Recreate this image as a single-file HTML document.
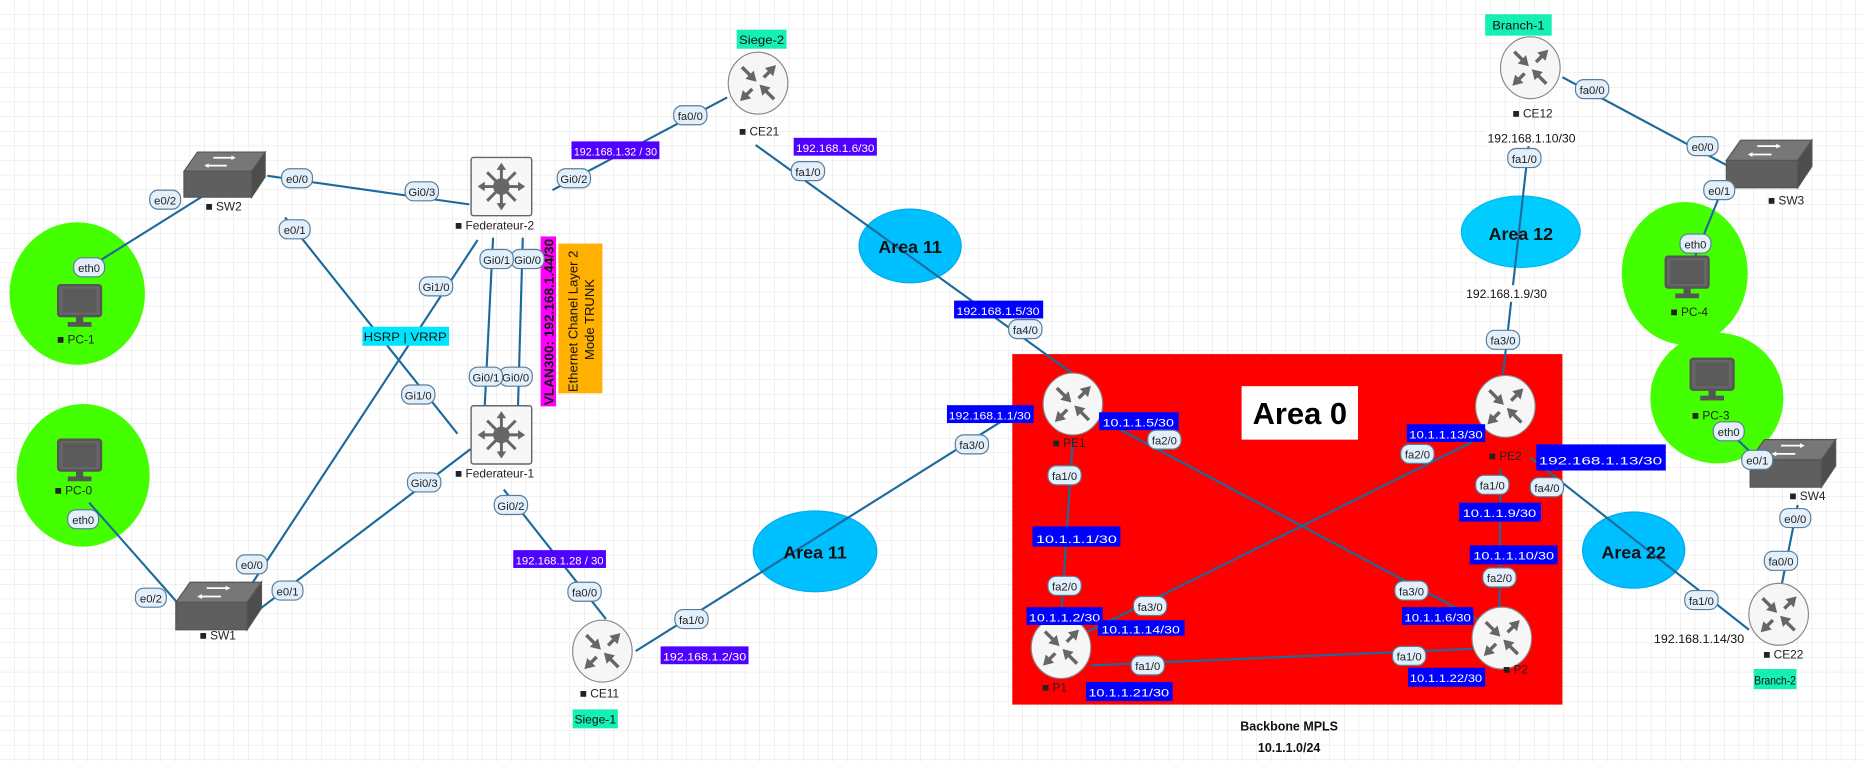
<!DOCTYPE html>
<html><head><meta charset="utf-8"><style>
html,body{margin:0;padding:0;background:#fff;}
svg{display:block;}
.l{stroke:#1b6a9c;stroke-width:1.8;fill:none;}
.p rect{fill:#e3f0fb;stroke:#5a7e99;stroke-width:1;}
.p text{font-family:"Liberation Sans Narrow","Liberation Sans",sans-serif;font-size:9.5px;fill:#222;text-anchor:middle;}
.n{font-family:"Liberation Sans Narrow","Liberation Sans",sans-serif;font-size:10px;fill:#222;}
.ip{font-family:"Liberation Sans Narrow","Liberation Sans",sans-serif;font-size:9.5px;fill:#fff;text-anchor:middle;}
.bk{font-family:"Liberation Sans Narrow","Liberation Sans",sans-serif;font-size:10px;fill:#111;text-anchor:middle;}
.ar{font-family:"Liberation Sans",sans-serif;font-weight:bold;font-size:15px;fill:#111;text-anchor:middle;}
</style></head><body>
<svg width="1863" height="762" viewBox="0 0 1568 641.3" preserveAspectRatio="none" xmlns="http://www.w3.org/2000/svg">
<defs>
<pattern id="g" width="12.3" height="12.3" patternUnits="userSpaceOnUse"><path d="M12.3 0V12.3H0" fill="none" stroke="#e2e2e2" stroke-width="0.8"/></pattern>
<symbol id="rt" viewBox="-28 -28 56 56" overflow="visible">
<ellipse cx="0" cy="0" rx="26" ry="27" fill="#f6f6f6" stroke="#888" stroke-width="1"/>
<g fill="#666" stroke="#666" stroke-width="3">
<line x1="-14" y1="-14" x2="-5" y2="-5"/><polygon points="-2,-2 -10,-4 -4,-10" stroke-width="1"/>
<line x1="5" y1="-5" x2="12" y2="-12"/><polygon points="15,-15 7,-13 13,-7" stroke-width="1"/>
<line x1="-5" y1="5" x2="-12" y2="12"/><polygon points="-15,15 -7,13 -13,7" stroke-width="1"/>
<line x1="14" y1="14" x2="5" y2="5"/><polygon points="2,2 10,4 4,10" stroke-width="1"/>
</g></symbol>
<symbol id="sw" viewBox="0 0 72 40" overflow="visible">
<polygon points="12,0 72,0 60,17 0,17" fill="#777" stroke="#555"/>
<polygon points="0,17 60,17 60,40 0,40" fill="#5f5f5f" stroke="#555"/>
<polygon points="60,17 72,0 72,22 60,40" fill="#4d4d4d" stroke="#555"/>
<g stroke="#fff" stroke-width="1.5"><line x1="26" y1="5" x2="44" y2="5"/><line x1="20" y1="12" x2="38" y2="12"/></g>
<polygon points="46,5 42,3 42,7" fill="#fff"/><polygon points="18,12 22,10 22,14" fill="#fff"/>
</symbol>
<symbol id="ml" viewBox="0 0 52 50" overflow="visible">
<rect x="0.5" y="0.5" width="51" height="49" rx="2" fill="#f7f7f7" stroke="#666" stroke-width="1.2"/>
<g stroke="#666" stroke-width="2.5"><line x1="26" y1="8" x2="26" y2="42"/><line x1="9" y1="25" x2="43" y2="25"/><line x1="14" y1="13" x2="38" y2="37"/><line x1="38" y1="13" x2="14" y2="37"/></g>
<circle cx="26" cy="25" r="7" fill="#666"/>
<g fill="#666"><polygon points="26,5 22,11 30,11"/><polygon points="26,45 22,39 30,39"/><polygon points="6,25 12,21 12,29"/><polygon points="46,25 40,21 40,29"/></g>
</symbol>
<symbol id="pc" viewBox="0 0 40 40" overflow="visible">
<rect x="2" y="2" width="36" height="26" rx="2" fill="#666" stroke="#555" stroke-width="2"/>
<rect x="6" y="5" width="28" height="20" fill="#5a5a5a"/>
<rect x="17" y="28" width="6" height="6" fill="#555"/><rect x="10" y="33" width="20" height="4" fill="#555"/>
</symbol>
</defs>
<rect width="1568" height="642" fill="#fff"/>
<rect width="1568" height="642" fill="url(#g)"/>

<rect x="852" y="298" width="463" height="295" fill="#ff0000"/>
<rect x="1045" y="325" width="98" height="45" fill="#fff"/>
<text x="1094" y="357" font-family="Liberation Sans,sans-serif" font-weight="bold" font-size="26" text-anchor="middle" fill="#000">Area 0</text>

<ellipse cx="65" cy="247" rx="57" ry="60" fill="#44ff00"/>
<ellipse cx="70" cy="400" rx="56" ry="60" fill="#44ff00"/>
<ellipse cx="1418" cy="230" rx="53" ry="60" fill="#44ff00"/>
<ellipse cx="1445" cy="335" rx="56" ry="55" fill="#44ff00"/>

<ellipse cx="766" cy="207" rx="43" ry="31" fill="#00bfff" stroke="#00aaee"/>
<ellipse cx="1280" cy="195" rx="50" ry="30" fill="#00ccff" stroke="#00b8ee"/>
<ellipse cx="686" cy="464" rx="52" ry="34" fill="#00bfff" stroke="#00aaee"/>
<ellipse cx="1375" cy="463" rx="43" ry="32" fill="#00bfff" stroke="#00aaee"/>

<path class="l" d="M75 225 L182 158"/>
<path class="l" d="M225 148 L395 172"/>
<path class="l" d="M240 183 L385 365"/>
<path class="l" d="M402 202 L205 502"/>
<path class="l" d="M218 513 L396 378"/>
<path class="l" d="M415 200 L408 341"/>
<path class="l" d="M440 200 L436 341"/>
<path class="l" d="M75 423 L150 508"/>
<path class="l" d="M612 82 L465 160"/>
<path class="l" d="M636 122 L905 316"/>
<path class="l" d="M424 412 L510 521"/>
<path class="l" d="M535 548 L855 347"/>
<path class="l" d="M903 370 L893 520"/>
<path class="l" d="M940 360 L1245 522"/>
<path class="l" d="M915 532 L1243 370"/>
<path class="l" d="M918 560 L1240 546"/>
<path class="l" d="M1263 395 L1262 512"/>
<path class="l" d="M1288 385 L1472 530"/>
<path class="l" d="M1288 110 L1265 315"/>
<path class="l" d="M1315 65 L1455 140"/>
<path class="l" d="M1450 158 L1427 215"/>
<path class="l" d="M1498 500 L1513 425"/>
<path class="l" d="M1455 363 L1478 385"/>

<text class="ar" x="766" y="213">Area 11</text>
<text class="ar" x="1280" y="202" font-size="17">Area 12</text>
<text class="ar" x="686" y="470">Area 11</text>
<text class="ar" x="1375" y="470">Area 22</text>

<use href="#rt" x="611" y="43" width="54" height="54"/>
<use href="#rt" x="480" y="521" width="54" height="54"/>
<use href="#rt" x="1261" y="30" width="54" height="54"/>
<use href="#rt" x="1470" y="490" width="54" height="54"/>
<use href="#rt" x="876" y="313" width="54" height="54"/>
<use href="#rt" x="1240" y="315" width="54" height="54"/>
<use href="#rt" x="866" y="518" width="54" height="54"/>
<use href="#rt" x="1237" y="510" width="54" height="54"/>
<use href="#ml" x="396" y="132" width="52" height="50"/>
<use href="#ml" x="396" y="341" width="52" height="50"/>
<use href="#sw" x="153" y="128" width="72" height="38"/>
<use href="#sw" x="148" y="490" width="72" height="40"/>
<use href="#sw" x="1453" y="118" width="72" height="40"/>
<use href="#sw" x="1473" y="370" width="72" height="40"/>
<use href="#pc" x="46" y="238" width="42" height="40"/>
<use href="#pc" x="46" y="368" width="42" height="40"/>
<use href="#pc" x="1399" y="214" width="42" height="40"/>
<use href="#pc" x="1420" y="300" width="42" height="40"/>

<g class="n">
<text x="48" y="289">■ PC-1</text>
<text x="46" y="416">■ PC-0</text>
<text x="1406" y="266">■ PC-4</text>
<text x="1424" y="353">■ PC-3</text>
<text x="173" y="177">■ SW2</text>
<text x="168" y="538">■ SW1</text>
<text x="1488" y="172">■ SW3</text>
<text x="1506" y="421">■ SW4</text>
<text x="383" y="193">■ Federateur-2</text>
<text x="383" y="402">■ Federateur-1</text>
<text x="622" y="114">■ CE21</text>
<text x="488" y="587">■ CE11</text>
<text x="1273" y="99">■ CE12</text>
<text x="1484" y="554">■ CE22</text>
<text x="886" y="376">■ PE1</text>
<text x="1253" y="387">■ PE2</text>
<text x="877" y="582">■ P1</text>
<text x="1265" y="567">■ P2</text>
</g>

<rect x="620" y="25" width="42" height="16" fill="#14f0b4"/><text class="bk" x="641" y="37" textLength="38" lengthAdjust="spacingAndGlyphs">Siege-2</text>
<rect x="482" y="597" width="38" height="16" fill="#14f0b4"/><text class="bk" x="501" y="609" textLength="35" lengthAdjust="spacingAndGlyphs">Siege-1</text>
<rect x="1250" y="12" width="56" height="18" fill="#14f0b4"/><text class="bk" x="1278" y="25" textLength="44" lengthAdjust="spacingAndGlyphs">Branch-1</text>
<rect x="1476" y="563" width="36" height="17" fill="#14f0b4"/><text class="bk" x="1494" y="576" textLength="35" lengthAdjust="spacingAndGlyphs">Branch-2</text>

<rect x="305" y="275" width="73" height="16" fill="#00e5ff"/><text class="bk" x="341" y="287" font-size="11" textLength="70" lengthAdjust="spacingAndGlyphs">HSRP | VRRP</text>
<rect x="455" y="199" width="13" height="143" fill="#ff00ff"/>
<text transform="translate(466,341) rotate(-90)" font-family="Liberation Sans,sans-serif" font-weight="bold" font-size="11" fill="#111" textLength="140" lengthAdjust="spacingAndGlyphs">VLAN300: 192.168.1.44/30</text>
<rect x="470" y="205" width="37" height="126" fill="#ffb000"/>
<text transform="translate(486,330) rotate(-90)" font-family="Liberation Sans,sans-serif" font-size="11" fill="#111">Ethernet Chanel Layer 2</text>
<text transform="translate(500,303) rotate(-90)" font-family="Liberation Sans,sans-serif" font-size="11" fill="#111">Mode TRUNK</text>

<g>
<rect x="481" y="119" width="74" height="15" fill="#5000ff"/><text class="ip" x="518" y="131" textLength="70" lengthAdjust="spacingAndGlyphs">192.168.1.32 / 30</text>
<rect x="668" y="116" width="70" height="15" fill="#5000ff"/><text class="ip" x="703" y="128" textLength="66" lengthAdjust="spacingAndGlyphs">192.168.1.6/30</text>
<rect x="803" y="253" width="75" height="15" fill="#0000ff"/><text class="ip" x="840" y="265" textLength="70" lengthAdjust="spacingAndGlyphs">192.168.1.5/30</text>
<rect x="432" y="463" width="78" height="15" fill="#5000ff"/><text class="ip" x="471" y="475" textLength="74" lengthAdjust="spacingAndGlyphs">192.168.1.28 / 30</text>
<rect x="556" y="544" width="74" height="15" fill="#5000ff"/><text class="ip" x="593" y="556" textLength="70" lengthAdjust="spacingAndGlyphs">192.168.1.2/30</text>
<rect x="797" y="341" width="73" height="15" fill="#0000ff"/><text class="ip" x="833" y="353" textLength="69" lengthAdjust="spacingAndGlyphs">192.168.1.1/30</text>
<rect x="925" y="347" width="67" height="15" fill="#0000ff"/><text class="ip" x="958" y="359" textLength="60" lengthAdjust="spacingAndGlyphs">10.1.1.5/30</text>
<rect x="869" y="443" width="74" height="17" fill="#0000ff"/><text class="ip" x="906" y="457" font-size="13" textLength="68" lengthAdjust="spacingAndGlyphs">10.1.1.1/30</text>
<rect x="864" y="511" width="64" height="15" fill="#0000ff"/><text class="ip" x="896" y="523" textLength="60" lengthAdjust="spacingAndGlyphs">10.1.1.2/30</text>
<rect x="924" y="522" width="73" height="13" fill="#0000ff"/><text class="ip" x="960" y="533" textLength="66" lengthAdjust="spacingAndGlyphs">10.1.1.14/30</text>
<rect x="914" y="574" width="73" height="16" fill="#0000ff"/><text class="ip" x="950" y="586" textLength="68" lengthAdjust="spacingAndGlyphs">10.1.1.21/30</text>
<rect x="1184" y="357" width="66" height="15" fill="#0000ff"/><text class="ip" x="1217" y="369" textLength="62" lengthAdjust="spacingAndGlyphs">10.1.1.13/30</text>
<rect x="1293" y="374" width="109" height="22" fill="#0000ff"/><text class="ip" x="1347" y="391" font-size="15" textLength="104" lengthAdjust="spacingAndGlyphs">192.168.1.13/30</text>
<rect x="1228" y="423" width="69" height="16" fill="#0000ff"/><text class="ip" x="1262" y="435" textLength="62" lengthAdjust="spacingAndGlyphs">10.1.1.9/30</text>
<rect x="1237" y="459" width="74" height="16" fill="#0000ff"/><text class="ip" x="1274" y="471" textLength="68" lengthAdjust="spacingAndGlyphs">10.1.1.10/30</text>
<rect x="1180" y="511" width="60" height="15" fill="#0000ff"/><text class="ip" x="1210" y="523" textLength="56" lengthAdjust="spacingAndGlyphs">10.1.1.6/30</text>
<rect x="1185" y="562" width="65" height="16" fill="#0000ff"/><text class="ip" x="1217" y="574" textLength="61" lengthAdjust="spacingAndGlyphs">10.1.1.22/30</text>
</g>
<g class="bk">
<rect x="1250" y="109" width="78" height="14" fill="#fff"/><text x="1289" y="120" textLength="74" lengthAdjust="spacingAndGlyphs">192.168.1.10/30</text>
<rect x="1232" y="240" width="72" height="14" fill="#fff"/><text x="1268" y="251" textLength="68" lengthAdjust="spacingAndGlyphs">192.168.1.9/30</text>
<text x="1430" y="541" textLength="76" lengthAdjust="spacingAndGlyphs">192.168.1.14/30</text>
<text x="1085" y="615" font-family="Liberation Sans,sans-serif" font-weight="bold" font-size="10.5">Backbone MPLS</text>
<text x="1085" y="633" font-family="Liberation Sans,sans-serif" font-weight="bold" font-size="10.5">10.1.1.0/24</text>
</g>

<g class="p">
<g transform="translate(75,225)"><rect x="-13" y="-8" width="26" height="16" rx="7"/><text y="4">eth0</text></g>
<g transform="translate(139,168)"><rect x="-13" y="-8" width="26" height="16" rx="7"/><text y="4">e0/2</text></g>
<g transform="translate(250,150)"><rect x="-13" y="-8" width="26" height="16" rx="7"/><text y="4">e0/0</text></g>
<g transform="translate(248,193)"><rect x="-13" y="-8" width="26" height="16" rx="7"/><text y="4">e0/1</text></g>
<g transform="translate(355,161)"><rect x="-14" y="-8" width="28" height="16" rx="7"/><text y="4">Gi0/3</text></g>
<g transform="translate(483,150)"><rect x="-14" y="-8" width="28" height="16" rx="7"/><text y="4">Gi0/2</text></g>
<g transform="translate(581,97)"><rect x="-14" y="-8" width="28" height="16" rx="7"/><text y="4">fa0/0</text></g>
<g transform="translate(680,144)"><rect x="-14" y="-8" width="28" height="16" rx="7"/><text y="4">fa1/0</text></g>
<g transform="translate(367,241)"><rect x="-14" y="-8" width="28" height="16" rx="7"/><text y="4">Gi1/0</text></g>
<g transform="translate(444,218)"><rect x="-14" y="-8" width="28" height="16" rx="7"/><text y="4">Gi0/0</text></g>
<g transform="translate(418,218)"><rect x="-14" y="-8" width="28" height="16" rx="7"/><text y="4">Gi0/1</text></g>
<g transform="translate(434,317)"><rect x="-14" y="-8" width="28" height="16" rx="7"/><text y="4">Gi0/0</text></g>
<g transform="translate(409,317)"><rect x="-14" y="-8" width="28" height="16" rx="7"/><text y="4">Gi0/1</text></g>
<g transform="translate(352,332)"><rect x="-14" y="-8" width="28" height="16" rx="7"/><text y="4">Gi1/0</text></g>
<g transform="translate(357,406)"><rect x="-14" y="-8" width="28" height="16" rx="7"/><text y="4">Gi0/3</text></g>
<g transform="translate(430,425)"><rect x="-14" y="-8" width="28" height="16" rx="7"/><text y="4">Gi0/2</text></g>
<g transform="translate(212,475)"><rect x="-13" y="-8" width="26" height="16" rx="7"/><text y="4">e0/0</text></g>
<g transform="translate(242,497)"><rect x="-13" y="-8" width="26" height="16" rx="7"/><text y="4">e0/1</text></g>
<g transform="translate(70,437)"><rect x="-13" y="-8" width="26" height="16" rx="7"/><text y="4">eth0</text></g>
<g transform="translate(127,503)"><rect x="-13" y="-8" width="26" height="16" rx="7"/><text y="4">e0/2</text></g>
<g transform="translate(492,498)"><rect x="-14" y="-8" width="28" height="16" rx="7"/><text y="4">fa0/0</text></g>
<g transform="translate(582,521)"><rect x="-14" y="-8" width="28" height="16" rx="7"/><text y="4">fa1/0</text></g>
<g transform="translate(818,374)"><rect x="-14" y="-8" width="28" height="16" rx="7"/><text y="4">fa3/0</text></g>
<g transform="translate(863,277)"><rect x="-14" y="-8" width="28" height="16" rx="7"/><text y="4">fa4/0</text></g>
<g transform="translate(980,370)"><rect x="-14" y="-8" width="28" height="16" rx="7"/><text y="4">fa2/0</text></g>
<g transform="translate(896,400)"><rect x="-14" y="-8" width="28" height="16" rx="7"/><text y="4">fa1/0</text></g>
<g transform="translate(896,493)"><rect x="-14" y="-8" width="28" height="16" rx="7"/><text y="4">fa2/0</text></g>
<g transform="translate(968,510)"><rect x="-14" y="-8" width="28" height="16" rx="7"/><text y="4">fa3/0</text></g>
<g transform="translate(966,560)"><rect x="-14" y="-8" width="28" height="16" rx="7"/><text y="4">fa1/0</text></g>
<g transform="translate(1186,552)"><rect x="-14" y="-8" width="28" height="16" rx="7"/><text y="4">fa1/0</text></g>
<g transform="translate(1188,497)"><rect x="-14" y="-8" width="28" height="16" rx="7"/><text y="4">fa3/0</text></g>
<g transform="translate(1193,382)"><rect x="-14" y="-8" width="28" height="16" rx="7"/><text y="4">fa2/0</text></g>
<g transform="translate(1256,408)"><rect x="-14" y="-8" width="28" height="16" rx="7"/><text y="4">fa1/0</text></g>
<g transform="translate(1302,410)"><rect x="-14" y="-8" width="28" height="16" rx="7"/><text y="4">fa4/0</text></g>
<g transform="translate(1262,486)"><rect x="-14" y="-8" width="28" height="16" rx="7"/><text y="4">fa2/0</text></g>
<g transform="translate(1432,505)"><rect x="-14" y="-8" width="28" height="16" rx="7"/><text y="4">fa1/0</text></g>
<g transform="translate(1499,472)"><rect x="-14" y="-8" width="28" height="16" rx="7"/><text y="4">fa0/0</text></g>
<g transform="translate(1511,436)"><rect x="-13" y="-8" width="26" height="16" rx="7"/><text y="4">e0/0</text></g>
<g transform="translate(1479,387)"><rect x="-13" y="-8" width="26" height="16" rx="7"/><text y="4">e0/1</text></g>
<g transform="translate(1455,363)"><rect x="-13" y="-8" width="26" height="16" rx="7"/><text y="4">eth0</text></g>
<g transform="translate(1340,75)"><rect x="-14" y="-8" width="28" height="16" rx="7"/><text y="4">fa0/0</text></g>
<g transform="translate(1433,123)"><rect x="-13" y="-8" width="26" height="16" rx="7"/><text y="4">e0/0</text></g>
<g transform="translate(1447,160)"><rect x="-13" y="-8" width="26" height="16" rx="7"/><text y="4">e0/1</text></g>
<g transform="translate(1427,205)"><rect x="-13" y="-8" width="26" height="16" rx="7"/><text y="4">eth0</text></g>
<g transform="translate(1283,133)"><rect x="-14" y="-8" width="28" height="16" rx="7"/><text y="4">fa1/0</text></g>
<g transform="translate(1265,286)"><rect x="-14" y="-8" width="28" height="16" rx="7"/><text y="4">fa3/0</text></g>
</g>
</svg>
</body></html>
